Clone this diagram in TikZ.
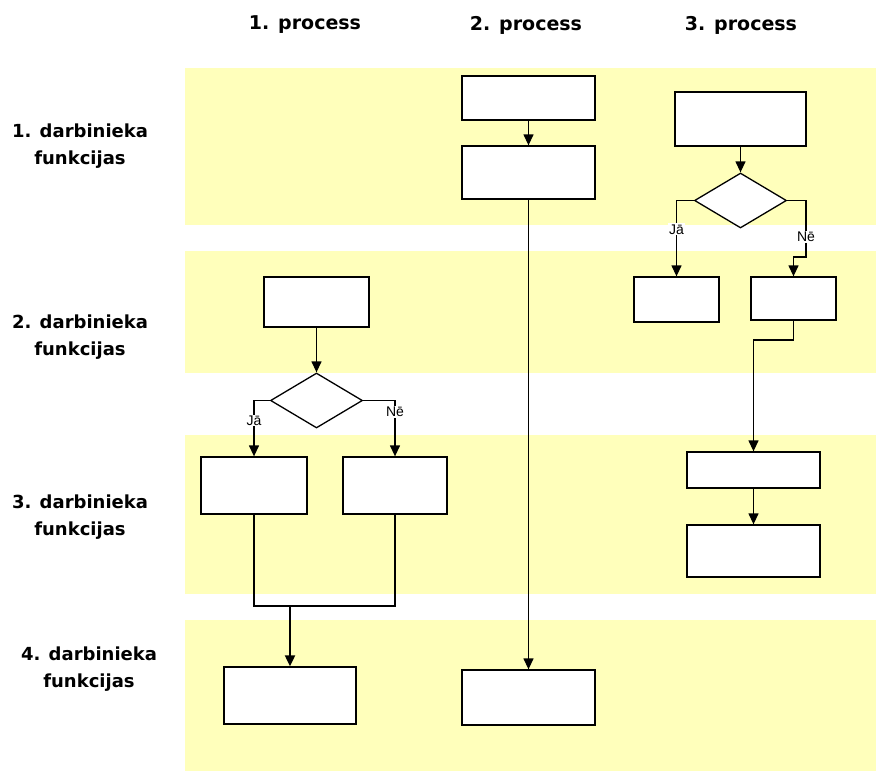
\documentclass[tikz,border=0pt]{standalone}
\usepackage{fontspec}
\setmainfont{Liberation Sans}
\newfontfamily\hdfont{DejaVu Sans}
\usetikzlibrary{shapes.geometric,arrows.meta,shadows}
\definecolor{bandyellow}{HTML}{FFFFBB}
\begin{document}
\begin{tikzpicture}[x=1pt,y=-1pt,
  band/.style={fill=bandyellow},
  pbox/.style={draw=black, fill=white, line width=1.3pt, inner sep=0pt,
    drop shadow={shadow xshift=1pt,shadow yshift=-1pt,fill=black!45,opacity=1}},
  dia/.style={diamond, draw=black, fill=white, line width=1.3pt, inner sep=0pt,
    minimum width=92pt, minimum height=55pt},
  conn/.style={line width=1.3pt, draw=black},
  arr/.style={conn, -{Triangle[length=11pt,width=10pt]}},
  lbl/.style={fill=white, inner sep=1pt, font=\fontsize{14}{16}\selectfont},
  hd/.style={font=\hdfont\bfseries\fontsize{19}{22}\selectfont},
  rl/.style={font=\hdfont\bfseries\fontsize{18}{27}\selectfont, align=center}
]
\useasboundingbox (0,0) rectangle (876,771);
% swim-lane bands
\fill[band] (185,68) rectangle (876,225);
\fill[band] (185,251) rectangle (876,373);
\fill[band] (185,435) rectangle (876,594);
\fill[band] (185,620) rectangle (876,771);
% headers
\node[hd] (h1) at (305,25) {1. process};
\node[hd] (h2) at (526,25) {2. process};
\node[hd] (h3) at (741,25) {3. process};
% row labels
\node[rl] (r1) at (80,146) {1. darbinieka\\funkcijas};
\node[rl] (r2) at (80,337) {2. darbinieka\\funkcijas};
\node[rl] (r3) at (80,517) {3. darbinieka\\funkcijas};
\node[rl] (r4) at (89,669) {4. darbinieka\\funkcijas};
% process 2
\node[pbox, minimum width=133pt, minimum height=44pt] (p2a) at (528.5,98) {};
\node[pbox, minimum width=133pt, minimum height=53pt] (p2b) at (528.5,172.5) {};
\node[pbox, minimum width=133pt, minimum height=55pt] (p2c) at (528.5,697.5) {};
% process 3
\node[pbox, minimum width=131pt, minimum height=54pt] (p3a) at (740.5,119) {};
\node[dia] (p3d) at (740.5,200.5) {};
\node[pbox, minimum width=85pt, minimum height=45pt] (p3j) at (676.5,299.5) {};
\node[pbox, minimum width=85pt, minimum height=43pt] (p3n) at (793.5,298.5) {};
\node[pbox, minimum width=133pt, minimum height=36pt] (p3c) at (753.5,470) {};
\node[pbox, minimum width=133pt, minimum height=52pt] (p3e) at (753.5,551) {};
% process 1
\node[pbox, minimum width=105pt, minimum height=50pt] (p1a) at (316.5,302) {};
\node[dia] (p1d) at (316.5,400.5) {};
\node[pbox, minimum width=106pt, minimum height=57pt] (p1j) at (254,485.5) {};
\node[pbox, minimum width=104pt, minimum height=57pt] (p1n) at (395,485.5) {};
\node[pbox, minimum width=132pt, minimum height=57pt] (p1e) at (290,695.5) {};
% helper coordinates
\coordinate (n3b) at (806,257);
\coordinate (k3) at (793.5,340);
\coordinate (mj) at (254,606);
\coordinate (mn) at (395,606);
\coordinate (m) at (290,606);
% connectors process 2
\draw[arr] (p2a.south) -- (p2b.north);
\draw[arr] (p2b.south) -- (p2c.north);
% connectors process 3
\draw[arr] (p3a.south) -- (p3d.north);
\draw[arr] (p3d.west) -| node[lbl, pos=0.69] {Jā} (p3j.north);
\draw[arr] (p3d.east) -| node[lbl, pos=0.82] {Nē} (n3b) -| (p3n.north);
\draw[arr] (p3n.south) -- (k3) -| (p3c.north);
\draw[arr] (p3c.south) -- (p3e.north);
% connectors process 1
\draw[arr] (p1a.south) -- (p1d.north);
\draw[arr] (p1d.west) -| node[lbl, pos=0.68] {Jā} (p1j.north);
\draw[arr] (p1d.east) -| node[lbl, pos=0.6] {Nē} (p1n.north);
\draw[conn] (p1j.south) -- (mj) -- (mn) -- (p1n.south);
\draw[arr, line width=2pt] (m) -- (p1e.north);
\end{tikzpicture}
\end{document}
